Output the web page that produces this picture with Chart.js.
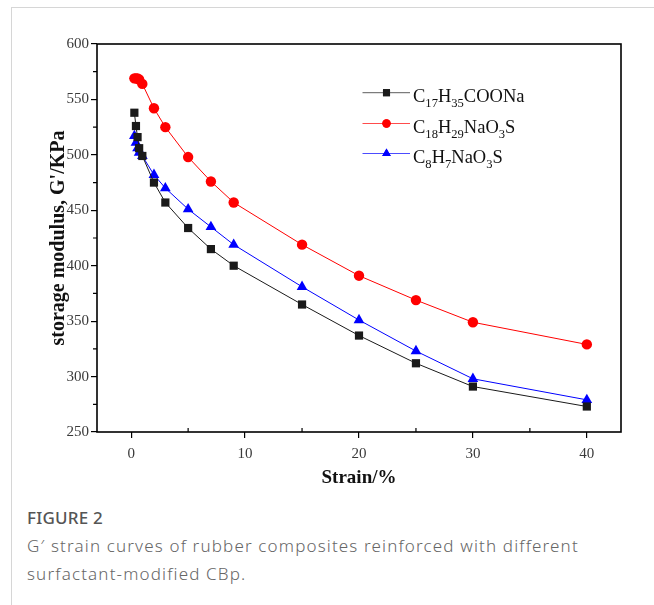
<!DOCTYPE html>
<html>
<head>
<meta charset="utf-8">
<script src="https://cdn.jsdelivr.net/npm/chart.js@4.4.1/dist/chart.umd.min.js"></script>
<style>
  html, body { margin: 0; padding: 0; background: #fff; }
  body { width: 654px; height: 605px; position: relative; overflow: hidden; }
  #frame { position: absolute; left: 11px; top: 7px; width: 700px; height: 700px;
           border-left: 1.5px solid #d6d6d6; border-top: 1.5px solid #d6d6d6; }
  #wrap { position: absolute; left: 0; top: 0; width: 654px; height: 500px; }
  #cap { position: absolute; left: 27px; top: 503px; width: 600px;
         font-family: "Noto Sans", "Open Sans", sans-serif; }
  #cap .t { font-size: 17px; color: #555; font-weight: 500; line-height: 29px; letter-spacing: 0.2px; }
  #cap .d { font-size: 17px; color: #666; font-weight: 300; line-height: 28px; letter-spacing: 1.15px; }
</style>
</head>
<body>
<div id="frame"></div>
<div id="wrap"><canvas id="c"></canvas></div>
<div id="cap">
  <div class="t">FIGURE 2</div>
  <div class="d">G′ strain curves of rubber composites reinforced with different<br>surfactant-modified CBp.</div>
</div>
<script>
// ---- data ----
const strain = [0.28, 0.42, 0.56, 0.7, 0.98, 2, 3, 5, 7, 9, 15, 20, 25, 30, 40];
const seriesNames = ["C_{17}H_{35}COONa", "C_{18}H_{29}NaO_{3}S", "C_{8}H_{7}NaO_{3}S"];
const g_C17H35COONa = [538, 526, 516, 506, 499, 475, 457, 434, 415, 400, 365, 337, 312, 291, 273];
const g_C18H29NaO3S = [569, 569, 569, 568, 564, 542, 525, 498, 476, 457, 419, 391, 369, 349, 329];
const g_C8H7NaO3S   = [517, 511, 506, 502, 499, 482, 470, 451, 435, 419, 381, 351, 323, 298, 279];
const xTicks = [0, 10, 20, 30, 40];
const xMinorTicks = [5, 15, 25, 35];
const yTicks = [250, 300, 350, 400, 450, 500, 550, 600];
const yMinorTicks = [275, 325, 375, 425, 475, 525, 575];
const xTitle = "Strain/%";
const yTitle = "storage modulus, G'/KPa";

const serif = '"Liberation Serif", "Times New Roman", serif';
const styles = [
  { color: '#1a1a1a', point: 'rect', r: 5.8, lr: 5 },
  { color: '#ff0000', point: 'circle', r: 5.2, lr: 4.2 },
  { color: '#0000ff', point: 'triangle', r: 6.2, lr: 5 }
];
const values = [g_C17H35COONa, g_C18H29NaO3S, g_C8H7NaO3S];

const datasets = values.map((vals, i) => ({
  label: seriesNames[i].replace(/[_{}]/g, ''),
  data: strain.map((x, k) => ({ x: x, y: vals[k] })),
  borderColor: styles[i].color,
  backgroundColor: styles[i].color,
  borderWidth: 1,
  pointStyle: styles[i].point,
  pointRadius: styles[i].r,
  pointHoverRadius: styles[i].r,
  pointBorderWidth: 0,
  tension: 0
}));

function drawRich(ctx, text, x, y, size) {
  const parts = [];
  const re = /_\{([^}]*)\}|([^_]+)/g;
  let m;
  while ((m = re.exec(text)) !== null) {
    if (m[1] !== undefined) parts.push({ t: m[1], sub: true });
    else parts.push({ t: m[2], sub: false });
  }
  let cx = x;
  ctx.textBaseline = 'alphabetic';
  ctx.textAlign = 'left';
  for (const p of parts) {
    const fs = p.sub ? size * 0.68 : size;
    ctx.font = fs + 'px ' + serif;
    ctx.fillText(p.t, cx, p.sub ? y + size * 0.3 : y);
    cx += ctx.measureText(p.t).width;
  }
}

const decor = {
  id: 'decor',
  afterDatasetsDraw(chart) {
    const { ctx, chartArea: a, scales: { x, y } } = chart;
    ctx.save();
    ctx.strokeStyle = '#000';
    ctx.lineWidth = 1.6;
    ctx.strokeRect(a.left, a.top, a.right - a.left, a.bottom - a.top);
    ctx.lineWidth = 1.2;
    ctx.beginPath();
    xMinorTicks.forEach(v => {
      const px = x.getPixelForValue(v);
      ctx.moveTo(px, a.bottom); ctx.lineTo(px, a.bottom - 4);
    });
    yMinorTicks.forEach(v => {
      const py = y.getPixelForValue(v);
      ctx.moveTo(a.left, py); ctx.lineTo(a.left - 4, py);
    });
    ctx.stroke();
    const rows = [92.7, 123.5, 153.5];
    const x0 = 362.5, x1 = 410, xm = 386.5, xt = 413;
    chart.data.datasets.forEach((ds, i) => {
      const ry = rows[i];
      ctx.strokeStyle = styles[i].color;
      ctx.globalAlpha = 0.7;
      ctx.lineWidth = 1;
      ctx.beginPath(); ctx.moveTo(x0, ry); ctx.lineTo(x1, ry); ctx.stroke();
      ctx.globalAlpha = 1;
      ctx.fillStyle = styles[i].color;
      Chart.helpers.drawPoint(ctx, { pointStyle: styles[i].point, radius: styles[i].lr, borderWidth: 0, rotation: 0 }, xm, ry);
      ctx.fill();
      ctx.fillStyle = '#111';
      drawRich(ctx, seriesNames[i], xt, ry + 9, 18.5);
    });
    ctx.restore();
  }
};

new Chart(document.getElementById('c'), {
  type: 'line',
  data: { datasets },
  options: {
    responsive: true,
    maintainAspectRatio: false,
    animation: false,
    events: [],
    layout: { padding: { left: 47, right: 33, top: 44, bottom: 11 } },
    plugins: { legend: { display: false }, tooltip: { enabled: false } },
    scales: {
      x: {
        type: 'linear',
        min: -3, max: 43,
        afterBuildTicks: s => { s.ticks = xTicks.map(v => ({ value: v })); },
        afterFit: s => { s.height = 57; },
        grid: { drawOnChartArea: false, tickLength: 6, color: '#000', lineWidth: 1.2 },
        border: { display: false },
        ticks: { padding: 7, color: '#3a3a3a', font: { family: serif, size: 15 }, maxRotation: 0 },
        title: { display: true, text: xTitle, color: '#111', padding: 0,
                 font: { family: serif, size: 19, weight: 'bold' } }
      },
      y: {
        type: 'linear',
        min: 250, max: 600,
        afterBuildTicks: s => { s.ticks = yTicks.map(v => ({ value: v })); },
        afterFit: s => { s.width = 50; },
        grid: { drawOnChartArea: false, tickLength: 6, color: '#000', lineWidth: 1.2 },
        border: { display: false },
        ticks: { padding: 2, color: '#3a3a3a', font: { family: serif, size: 15 } },
        title: { display: true, text: yTitle, color: '#111', padding: 0,
                 font: { family: serif, size: 20, weight: 'bold' } }
      }
    }
  },
  plugins: [decor]
});
</script>
</body>
</html>
